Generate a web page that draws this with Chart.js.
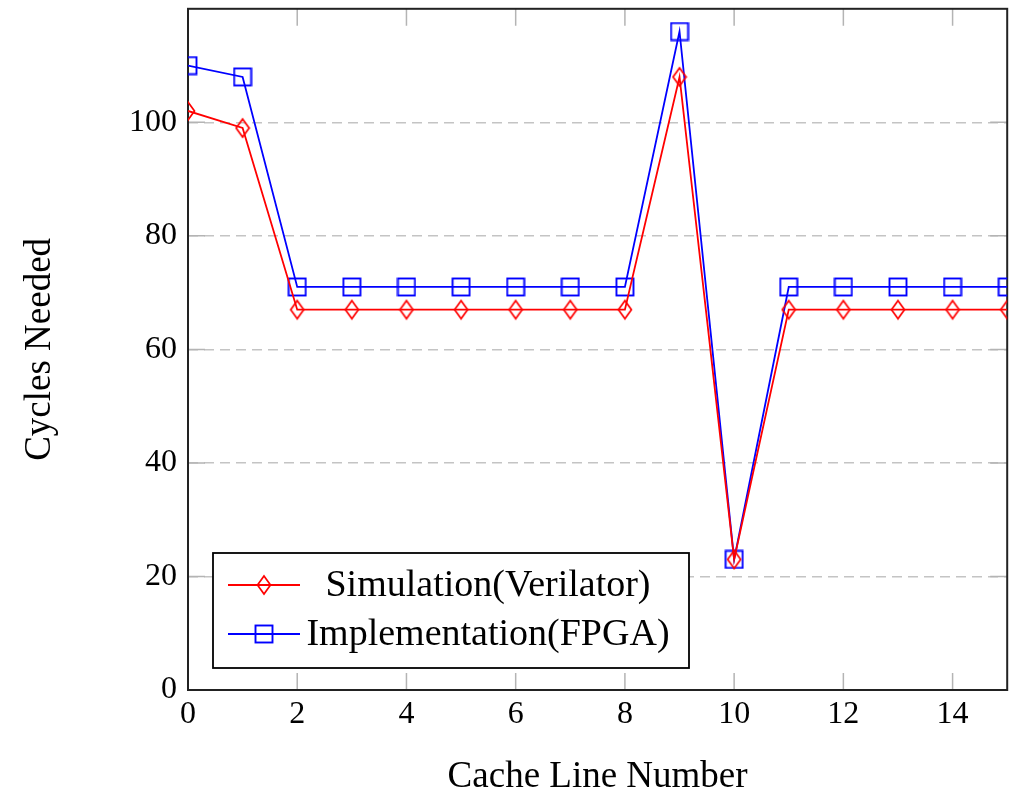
<!DOCTYPE html>
<html><head><meta charset="utf-8">
<script src="https://cdn.jsdelivr.net/npm/chart.js@4.4.1/dist/chart.umd.min.js"></script>
<style>html,body{margin:0;padding:0;background:#fff;overflow:hidden}</style>
</head><body>
<canvas id="c" width="1019" height="799" style="width:1019px;height:799px;display:block;margin-top:-3px"></canvas>
<script>
const cacheLines = [0,1,2,3,4,5,6,7,8,9,10,11,12,13,14,15];
const simulation = [102,99,67,67,67,67,67,67,67,108,23,67,67,67,67,67];
const implementation = [110,108,71,71,71,71,71,71,71,116,23,71,71,71,71,71];
const xTickValues = [0,2,4,6,8,10,12,14];
const yTickValues = [0,20,40,60,80,100];
const seriesLabels = ['Simulation(Verilator)','Implementation(FPGA)'];

const FONT = '"Liberation Serif", "DejaVu Serif", serif';
const OFF = 3; // canvas shifted up by 3px

function diamondImg(color){
  const c=document.createElement('canvas'); c.width=16; c.height=22;
  const g=c.getContext('2d'); g.strokeStyle=color; g.lineWidth=1.7;
  g.beginPath(); g.moveTo(8,2); g.lineTo(14.5,11); g.lineTo(8,20); g.lineTo(1.5,11); g.closePath(); g.stroke();
  return c;
}
function squareImg(color){
  const c=document.createElement('canvas'); c.width=20; c.height=20;
  const g=c.getContext('2d'); g.strokeStyle=color; g.lineWidth=1.9;
  g.strokeRect(1.5,1.5,17,17);
  return c;
}
const redDiamond = diamondImg('#ff0000');
const blueSquare = squareImg('#0000ff');

const framePlugin = {
  id:'frame',
  beforeDatasetsDraw(chart){
    const {ctx, chartArea:a, scales:{x,y}} = chart;
    ctx.save();
    ctx.strokeStyle='#b4b4b4'; ctx.lineWidth=1.5;
    const L=17;
    ctx.beginPath();
    xTickValues.forEach(v=>{
      const px=x.getPixelForValue(v);
      ctx.moveTo(px,a.bottom); ctx.lineTo(px,a.bottom-L);
      ctx.moveTo(px,a.top); ctx.lineTo(px,a.top+L);
    });
    yTickValues.forEach(v=>{
      const py=y.getPixelForValue(v);
      ctx.moveTo(a.left,py); ctx.lineTo(a.left+L,py);
      ctx.moveTo(a.right,py); ctx.lineTo(a.right-L,py);
    });
    ctx.stroke();
    ctx.strokeStyle='#222'; ctx.lineWidth=2;
    ctx.strokeRect(a.left,a.top,a.right-a.left,a.bottom-a.top);
    ctx.restore();
  },
  afterDraw(chart){
    const {ctx} = chart;
    const bx=213, by=553+OFF, bw=476, bh=115;
    ctx.save();
    ctx.fillStyle='#fff'; ctx.fillRect(bx,by,bw,bh);
    ctx.strokeStyle='#000'; ctx.lineWidth=1.8; ctx.strokeRect(bx,by,bw,bh);
    const rows=[585+OFF,634+OFF];
    chart.data.datasets.forEach((ds,i)=>{
      const yy=rows[i];
      ctx.strokeStyle=ds.borderColor; ctx.lineWidth=1.8;
      ctx.beginPath(); ctx.moveTo(228,yy); ctx.lineTo(300,yy); ctx.stroke();
      const img=ds.pointStyle;
      ctx.drawImage(img,264-img.width/2,yy-img.height/2);
      ctx.fillStyle='#000'; ctx.font='38px '+FONT; ctx.textAlign='center'; ctx.textBaseline='middle';
      ctx.fillText(ds.label,488,yy+1);
    });
    ctx.restore();
  }
};

new Chart(document.getElementById('c'),{
  type:'line',
  data:{
    datasets:[
      {label:seriesLabels[0], data:cacheLines.map((c,i)=>({x:c,y:simulation[i]})),
       borderColor:'#ff0000', borderWidth:1.8, pointStyle:redDiamond, pointRadius:9, tension:0, fill:false},
      {label:seriesLabels[1], data:cacheLines.map((c,i)=>({x:c,y:implementation[i]})),
       borderColor:'#0000ff', borderWidth:1.8, pointStyle:blueSquare, pointRadius:10, tension:0, fill:false}
    ]
  },
  options:{
    responsive:false, animation:false, devicePixelRatio:1,
    layout:{padding:{top:2,right:11,left:0,bottom:0}},
    plugins:{legend:{display:false}, tooltip:{enabled:false}},
    scales:{
      x:{type:'linear', min:0, max:15,
        afterBuildTicks(s){ s.ticks = xTickValues.map(v=>({value:v})); },
        afterFit(s){ s.height=106; s.paddingLeft=0; s.paddingRight=0; },
        grid:{display:false, drawTicks:false}, border:{display:false},
        ticks:{font:{family:FONT,size:32}, color:'#000', padding:5, maxRotation:0, autoSkip:false},
        title:{display:true, text:'Cache Line Number', font:{family:FONT,size:37,lineHeight:1}, color:'#000', padding:0}
      },
      y:{type:'linear', min:0, max:120,
        afterBuildTicks(s){ s.ticks = yTickValues.map(v=>({value:v})); },
        afterFit(s){ s.width=188; s.paddingTop=0; s.paddingBottom=0; },
        grid:{display:true, drawTicks:false, color:'#c4c4c4', lineWidth:1.5},
        border:{display:false, dash:[10,6]},
        ticks:{font:{family:FONT,size:32}, color:'#000', padding:11, autoSkip:false},
        title:{display:true, text:'Cycles Needed', font:{family:FONT,size:37,lineHeight:1}, color:'#000', padding:{top:22,bottom:0}}
      }
    }
  },
  plugins:[framePlugin]
});
</script>
</body></html>
